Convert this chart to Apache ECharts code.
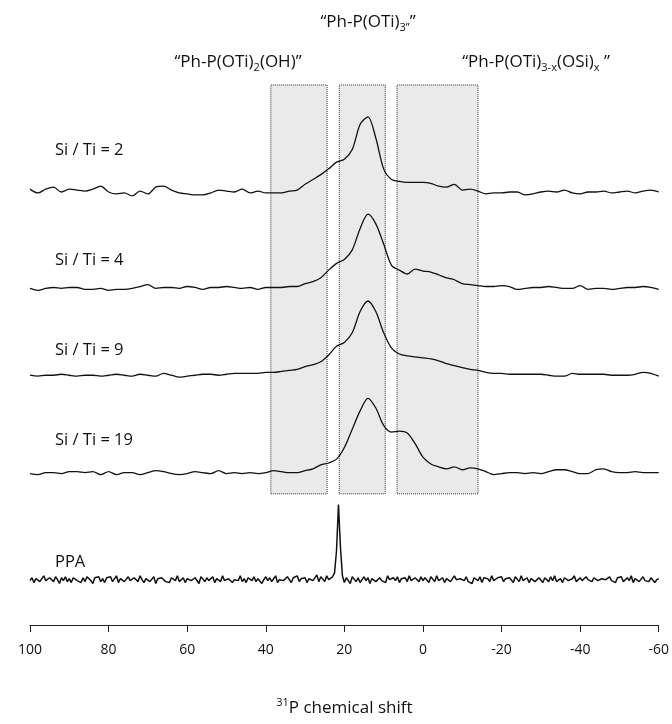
<!DOCTYPE html>
<html>
<head>
<meta charset="utf-8">
<script src="https://cdn.jsdelivr.net/npm/echarts@6/dist/echarts.min.js"></script>
<style>
  html, body { margin: 0; padding: 0; background: #fff; }
  #chart { width: 672px; height: 724px; }
</style>
</head>
<body>
<div id="chart"></div>
<script>
// chemical shift grid (ppm) for the broad spectra
const shifts = [100, 98, 96, 94, 92, 90, 88, 86, 84, 82, 80, 78, 76, 74, 72, 70, 68, 66, 64, 62,
  60, 58, 56, 54, 52, 50, 48, 46, 44, 42, 40, 38, 36, 34, 32, 30, 28, 26, 24, 22,
  20, 18, 16, 14, 12, 10, 8, 6, 4, 2, 0, -2, -4, -6, -8, -10, -12, -14, -16, -18,
  -20, -22, -24, -26, -28, -30, -32, -34, -36, -38, -40, -42, -44, -46, -48, -50, -52, -54, -56, -58, -60];

// intensities (above each trace's own baseline)
const siTi2 = [3, -1, 3, 5, 0, 3, 2, 1, 3, 6, 0, -2, -1, -4, 1, -2, 5, 6, 2, -1,
  -2, -3, -3, -1, 2, 1, 0, 3, -1, 1, -1, -1, -1, 1, 2, 8, 13, 18, 24, 31,
  34, 44, 70, 78, 56, 24, 13, 11, 10, 10, 10, 9, 6, 5, 8, 2, 3, 1, -2, -1,
  -1, 0, 0, -3, -2, 0, 1, 0, 2, -1, -2, 0, 0, 1, -1, 0, 1, -1, 1, 2, 0];
const siTi4 = [0, -2, 0, 1, 0, 1, 1, -1, -1, 0, -2, -1, -1, 0, 2, 4, 0, 1, 1, 0,
  2, 1, -1, 1, 1, 2, 1, 0, 1, -1, 1, 1, 1, 2, 2, 5, 7, 11, 19, 26,
  30, 40, 62, 77, 67, 46, 24, 19, 15, 20, 18, 17, 14, 11, 9, 5, 4, 3, 2, 2,
  3, 2, -1, 0, 1, 1, 2, 1, 0, 0, 3, -1, 0, 0, -1, 0, 1, 1, 2, 1, -1];
const siTi9 = [0, -1, 0, 0, 1, 0, -1, 0, 0, -1, 0, 1, 0, -1, 1, 0, -1, 2, 0, -2,
  -1, 0, 1, 1, 0, 1, 2, 2, 2, 2, 3, 3, 4, 5, 6, 9, 11, 14, 21, 30,
  34, 44, 66, 77, 66, 44, 28, 22, 20, 19, 18, 17, 15, 12, 10, 8, 6, 5, 3, 2,
  2, 1, 1, 1, 1, 1, 0, -1, -1, 2, 1, 1, 1, 1, 0, 0, 0, 1, 3, 2, -1];
const siTi19 = [-1, -2, 0, 0, -1, 1, 1, 0, 1, -2, 1, -2, 0, 0, -2, 0, 2, 1, -1, -2,
  -1, 1, 0, -1, 2, -1, 0, -1, 0, -1, 0, 2, 1, 0, 0, 2, 4, 8, 10, 14,
  26, 45, 64, 77, 67, 49, 42, 43, 41, 30, 16, 9, 6, 4, 6, 3, 5, 4, 1, -2,
  -1, 0, 0, -1, 0, -1, 1, 3, 3, 1, -1, -1, 3, 4, 1, 0, 0, 1, 0, 0, 0];

// PPA, sampled every 0.5 ppm from 100 down to -60
const ppaStart = 100;
const ppaStep = 0.5;
const ppa = [-1, 2, -3, 1, 3, -2, 0, 4, -1, -3, 2, 1, -2, 3, 0, -4, 2, -1, 3, -2,
  1, -3, 2, 4, -1, 0, -3, 2, -2, 3, 1, -1, -4, 2, 0, 3, -2, 1, -3, 2,
  0, 3, -2, -1, 4, -3, 1, 2, -2, 0, 3, -1, -3, 2, 1, -2, 4, 0, -3, 1,
  2, -2, 0, 3, -4, 1, -1, 2, 3, -2, 0, -3, 2, 1, -1, 4, -2, 0, 2, -3,
  1, 3, -1, -2, 2, 0, -4, 3, 1, -2, 2, -1, 0, 3, -3, 1, 2, -2, 4, -1,
  -2, 1, 3, -3, 0, 2, -1, 4, -2, 1, -3, 2, 0, -1, 3, -2, 1, 2, -4, 0,
  3, -1, 2, -2, 1, 4, -3, 0, 2, -1, -2, 3, 1, -3, 2, 0, 4, -2, 1, -1,
  2, -3, 1, 3, -1, 0, 5, -2, 3, 1, -2, 4, 0, 2, 3, 7, 30, 78, 34, 4,
  -3, 2, -1, -4, 3, 1, -2, 2, -3, 0, 3, -1, 2, -4, 1, 3, -2, 0, 2, -1,
  1, -3, 4, 0, -2, 2, -1, 3, -3, 1, 0, 2, -2, 4, -1, -3, 2, 1, -2, 3,
  -1, 2, 0, -3, 3, 1, -2, 4, -1, 0, 2, -3, 1, 3, -2, -1, 4, 0, -2, 1,
  2, -1, 3, -2, 0, -4, 2, 1, -1, 3, -3, 2, 0, 1, -2, 4, -1, -3, 2, 0,
  3, -2, 1, -1, 2, 0, -3, 3, 1, -2, 4, -1, 0, 2, -3, 1, 3, -2, -1, 2,
  0, -3, 2, 1, -2, 3, -1, 4, -2, 0, 1, -3, 2, 3, -1, -2, 1, 4, -2, 0,
  2, -1, -3, 3, 0, 1, -2, 2, 4, -1, -3, 1, 2, 0, -2, 3, -1, 1, -3, 2,
  1, 3, -2, 0, 2, -1, 4, -3, 1, 2, -2, 0, 3, -1, 1, -2, 2, 3, -3, 0,
  1];

// vertical offsets of the stacked traces
const names = ['Si / Ti = 2', 'Si / Ti = 4', 'Si / Ti = 9', 'Si / Ti = 19', 'PPA'];
const offsets = [449, 349, 259, 158, 47];

// shaded regions (ppm)
const boxFrom = [38.7, 21.3, 6.6];
const boxTo = [24.4, 9.6, -14.0];
const boxBottom = 136;
const boxTop = 560;

const FONT = 'Open Sans';
const chart = echarts.init(document.getElementById('chart'));

function pairs(xs, ys, off) {
  return ys.map(function(v, i) { return [xs[i], off + v]; });
}
const ppaShifts = ppa.map(function(v, i) { return ppaStart - i * ppaStep; });

const traces = [siTi2, siTi4, siTi9, siTi19].map(function(vals, k) {
  return {
    name: names[k],
    type: 'line',
    z: 2,
    symbol: 'none',
    smooth: 0.3,
    lineStyle: { color: '#111', width: 1.3 },
    data: pairs(shifts, vals, offsets[k])
  };
});
traces.push({
  name: names[4],
  type: 'line',
  z: 2,
  symbol: 'none',
  lineStyle: { color: '#111', width: 1.5 },
  data: pairs(ppaShifts, ppa, offsets[4])
});

const labelY = [150, 260, 350, 440, 562];
const graphics = names.map(function(n, k) {
  return {
    type: 'text',
    x: 55,
    y: labelY[k],
    style: { text: n, font: '16.5px "' + FONT + '"', fill: '#111', verticalAlign: 'middle' }
  };
});

const richSub = {
  sub: { fontSize: 11, lineHeight: 11, verticalAlign: 'bottom', fontFamily: FONT, fill: '#111' }
};
function header(text, cx, cy) {
  return {
    type: 'text',
    x: cx,
    y: cy,
    style: {
      text: text,
      fontFamily: FONT,
      fontSize: 17,
      lineHeight: 22,
      fill: '#111',
      align: 'center',
      verticalAlign: 'middle',
      rich: richSub
    }
  };
}
graphics.push(header('“Ph-P(OTi){sub|3”}”', 368, 22));
graphics.push(header('“Ph-P(OTi){sub|2}(OH)”', 238, 62));
graphics.push(header('“Ph-P(OTi){sub|3-x}(OSi){sub|x} ”', 536, 62));

chart.setOption({
  backgroundColor: '#fff',
  animation: false,
  grid: { left: 30, right: 13, top: 84, bottom: 79 },
  xAxis: {
    type: 'value',
    min: -60,
    max: 100,
    interval: 20,
    inverse: true,
    name: '{sup|31}P chemical shift',
    nameLocation: 'middle',
    nameGap: 72,
    nameTextStyle: {
      fontFamily: FONT,
      fontSize: 17,
      color: '#111',
      lineHeight: 22,
      rich: {
        sup: { fontSize: 11, lineHeight: 11, verticalAlign: 'top', fontFamily: FONT, color: '#111' }
      }
    },
    axisLine: { lineStyle: { color: '#222', width: 1 } },
    axisTick: { length: 7, lineStyle: { color: '#222' } },
    axisLabel: { fontFamily: FONT, fontSize: 14, color: '#111', margin: 18 },
    splitLine: { show: false }
  },
  yAxis: { type: 'value', min: 0, max: 561, show: false },
  series: [{
    // translucent boxes laid over the traces
    type: 'line',
    z: 5,
    data: [],
    silent: true,
    markArea: {
      silent: true,
      itemStyle: {
        color: 'rgba(208, 208, 208, 0.45)',
        borderColor: '#333',
        borderWidth: 1,
        borderType: 'dotted'
      },
      data: boxFrom.map(function(a, i) {
        return [{ xAxis: a, yAxis: boxBottom }, { xAxis: boxTo[i], yAxis: boxTop }];
      })
    }
  }].concat(traces),
  graphic: graphics
});
</script>
</body>
</html>
